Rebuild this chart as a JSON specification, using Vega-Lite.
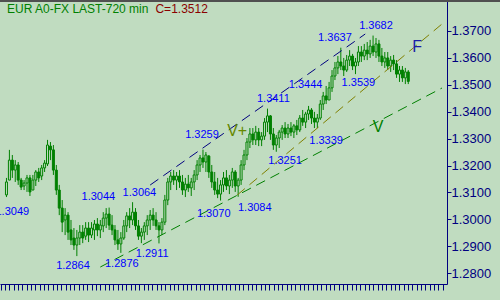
{
  "$schema": "https://vega.github.io/schema/vega-lite/v6.json",
  "width": 447,
  "height": 284,
  "autosize": {"type": "none"},
  "padding": {"left": 0, "top": 0, "right": 53, "bottom": 16},
  "background": "#C0DCC0",
  "config": {"view": {"stroke": null}, "font": "Liberation Sans"},
  "datasets": {
    "bars": [
      {"i":0,"o":1.3091,"h":1.3154,"l":1.3083,"c":1.3139},
      {"i":1,"o":1.3146,"h":1.3258,"l":1.3146,"c":1.3220},
      {"i":2,"o":1.3220,"h":1.3239,"l":1.3154,"c":1.3183},
      {"i":3,"o":1.3183,"h":1.3220,"l":1.3139,"c":1.3202},
      {"i":4,"o":1.3202,"h":1.3213,"l":1.3128,"c":1.3146},
      {"i":5,"o":1.3146,"h":1.3154,"l":1.3109,"c":1.3120},
      {"i":6,"o":1.3124,"h":1.3146,"l":1.3109,"c":1.3135},
      {"i":7,"o":1.3135,"h":1.3165,"l":1.3102,"c":1.3154},
      {"i":8,"o":1.3154,"h":1.3165,"l":1.3087,"c":1.3102},
      {"i":9,"o":1.3109,"h":1.3165,"l":1.3109,"c":1.3146},
      {"i":10,"o":1.3146,"h":1.3183,"l":1.3124,"c":1.3176},
      {"i":11,"o":1.3176,"h":1.3191,"l":1.3139,"c":1.3154},
      {"i":12,"o":1.3161,"h":1.3202,"l":1.3146,"c":1.3191},
      {"i":13,"o":1.3191,"h":1.3220,"l":1.3176,"c":1.3209},
      {"i":14,"o":1.3206,"h":1.3295,"l":1.3198,"c":1.3276},
      {"i":15,"o":1.3272,"h":1.3287,"l":1.3220,"c":1.3258},
      {"i":16,"o":1.3258,"h":1.3276,"l":1.3165,"c":1.3183},
      {"i":17,"o":1.3183,"h":1.3202,"l":1.3091,"c":1.3109},
      {"i":18,"o":1.3109,"h":1.3128,"l":1.3016,"c":1.3042},
      {"i":19,"o":1.3042,"h":1.3072,"l":1.2953,"c":1.2990},
      {"i":20,"o":1.2998,"h":1.3042,"l":1.2942,"c":1.3016},
      {"i":21,"o":1.3016,"h":1.3027,"l":1.2924,"c":1.2953},
      {"i":22,"o":1.2961,"h":1.2998,"l":1.2905,"c":1.2924},
      {"i":23,"o":1.2931,"h":1.2968,"l":1.2887,"c":1.2905},
      {"i":24,"o":1.2905,"h":1.2961,"l":1.2864,"c":1.2931},
      {"i":25,"o":1.2931,"h":1.2979,"l":1.2905,"c":1.2953},
      {"i":26,"o":1.2953,"h":1.2979,"l":1.2912,"c":1.2931},
      {"i":27,"o":1.2938,"h":1.2990,"l":1.2924,"c":1.2968},
      {"i":28,"o":1.2968,"h":1.2990,"l":1.2916,"c":1.2942},
      {"i":29,"o":1.2942,"h":1.2990,"l":1.2931,"c":1.2968},
      {"i":30,"o":1.2961,"h":1.2998,"l":1.2924,"c":1.2983},
      {"i":31,"o":1.2983,"h":1.3005,"l":1.2938,"c":1.2961},
      {"i":32,"o":1.2961,"h":1.2998,"l":1.2931,"c":1.2979},
      {"i":33,"o":1.2976,"h":1.3027,"l":1.2953,"c":1.3005},
      {"i":34,"o":1.3005,"h":1.3042,"l":1.2968,"c":1.3020},
      {"i":35,"o":1.3020,"h":1.3044,"l":1.2961,"c":1.2979},
      {"i":36,"o":1.2979,"h":1.3016,"l":1.2942,"c":1.2961},
      {"i":37,"o":1.2961,"h":1.2979,"l":1.2905,"c":1.2924},
      {"i":38,"o":1.2924,"h":1.2961,"l":1.2887,"c":1.2909},
      {"i":39,"o":1.2909,"h":1.2953,"l":1.2876,"c":1.2931},
      {"i":40,"o":1.2931,"h":1.2998,"l":1.2924,"c":1.2976},
      {"i":41,"o":1.2976,"h":1.3027,"l":1.2953,"c":1.3013},
      {"i":42,"o":1.3013,"h":1.3042,"l":1.2968,"c":1.2998},
      {"i":43,"o":1.2998,"h":1.3064,"l":1.2979,"c":1.3027},
      {"i":44,"o":1.3027,"h":1.3042,"l":1.2961,"c":1.2976},
      {"i":45,"o":1.2976,"h":1.2998,"l":1.2924,"c":1.2938},
      {"i":46,"o":1.2938,"h":1.2968,"l":1.2912,"c":1.2953},
      {"i":47,"o":1.2953,"h":1.2990,"l":1.2924,"c":1.2976},
      {"i":48,"o":1.2976,"h":1.3016,"l":1.2942,"c":1.2998},
      {"i":49,"o":1.2998,"h":1.3035,"l":1.2961,"c":1.3016},
      {"i":50,"o":1.3016,"h":1.3042,"l":1.2976,"c":1.2998},
      {"i":51,"o":1.2998,"h":1.3027,"l":1.2961,"c":1.2976},
      {"i":52,"o":1.2976,"h":1.2990,"l":1.2911,"c":1.2961},
      {"i":53,"o":1.2961,"h":1.3005,"l":1.2942,"c":1.2990},
      {"i":54,"o":1.2990,"h":1.3091,"l":1.2979,"c":1.3072},
      {"i":55,"o":1.3072,"h":1.3154,"l":1.3053,"c":1.3139},
      {"i":56,"o":1.3139,"h":1.3176,"l":1.3109,"c":1.3161},
      {"i":57,"o":1.3161,"h":1.3183,"l":1.3128,"c":1.3146},
      {"i":58,"o":1.3146,"h":1.3176,"l":1.3109,"c":1.3161},
      {"i":59,"o":1.3161,"h":1.3183,"l":1.3117,"c":1.3139},
      {"i":60,"o":1.3139,"h":1.3165,"l":1.3091,"c":1.3109},
      {"i":61,"o":1.3109,"h":1.3154,"l":1.3083,"c":1.3131},
      {"i":62,"o":1.3131,"h":1.3165,"l":1.3102,"c":1.3117},
      {"i":63,"o":1.3117,"h":1.3154,"l":1.3087,"c":1.3139},
      {"i":64,"o":1.3139,"h":1.3183,"l":1.3109,"c":1.3165},
      {"i":65,"o":1.3165,"h":1.3220,"l":1.3146,"c":1.3202},
      {"i":66,"o":1.3202,"h":1.3239,"l":1.3176,"c":1.3228},
      {"i":67,"o":1.3228,"h":1.3259,"l":1.3191,"c":1.3213},
      {"i":68,"o":1.3213,"h":1.3250,"l":1.3176,"c":1.3239},
      {"i":69,"o":1.3235,"h":1.3239,"l":1.3154,"c":1.3176},
      {"i":70,"o":1.3176,"h":1.3202,"l":1.3117,"c":1.3139},
      {"i":71,"o":1.3139,"h":1.3176,"l":1.3091,"c":1.3109},
      {"i":72,"o":1.3109,"h":1.3154,"l":1.3079,"c":1.3094},
      {"i":73,"o":1.3094,"h":1.3146,"l":1.3070,"c":1.3128},
      {"i":74,"o":1.3128,"h":1.3176,"l":1.3102,"c":1.3154},
      {"i":75,"o":1.3154,"h":1.3183,"l":1.3109,"c":1.3124},
      {"i":76,"o":1.3124,"h":1.3165,"l":1.3094,"c":1.3146},
      {"i":77,"o":1.3146,"h":1.3191,"l":1.3117,"c":1.3176},
      {"i":78,"o":1.3176,"h":1.3183,"l":1.3102,"c":1.3124},
      {"i":79,"o":1.3124,"h":1.3154,"l":1.3084,"c":1.3146},
      {"i":80,"o":1.3146,"h":1.3220,"l":1.3128,"c":1.3202},
      {"i":81,"o":1.3202,"h":1.3258,"l":1.3183,"c":1.3239},
      {"i":82,"o":1.3239,"h":1.3302,"l":1.3220,"c":1.3287},
      {"i":83,"o":1.3287,"h":1.3339,"l":1.3265,"c":1.3317},
      {"i":84,"o":1.3317,"h":1.3339,"l":1.3276,"c":1.3295},
      {"i":85,"o":1.3295,"h":1.3347,"l":1.3276,"c":1.3324},
      {"i":86,"o":1.3324,"h":1.3339,"l":1.3272,"c":1.3295},
      {"i":87,"o":1.3295,"h":1.3324,"l":1.3272,"c":1.3309},
      {"i":88,"o":1.3309,"h":1.3376,"l":1.3295,"c":1.3361},
      {"i":89,"o":1.3361,"h":1.3411,"l":1.3324,"c":1.3384},
      {"i":90,"o":1.3384,"h":1.3387,"l":1.3295,"c":1.3317},
      {"i":91,"o":1.3317,"h":1.3339,"l":1.3258,"c":1.3276},
      {"i":92,"o":1.3276,"h":1.3313,"l":1.3251,"c":1.3302},
      {"i":93,"o":1.3302,"h":1.3332,"l":1.3265,"c":1.3324},
      {"i":94,"o":1.3324,"h":1.3350,"l":1.3295,"c":1.3339},
      {"i":95,"o":1.3339,"h":1.3361,"l":1.3302,"c":1.3317},
      {"i":96,"o":1.3317,"h":1.3354,"l":1.3302,"c":1.3339},
      {"i":97,"o":1.3339,"h":1.3361,"l":1.3309,"c":1.3324},
      {"i":98,"o":1.3324,"h":1.3354,"l":1.3302,"c":1.3347},
      {"i":99,"o":1.3347,"h":1.3369,"l":1.3313,"c":1.3332},
      {"i":100,"o":1.3332,"h":1.3387,"l":1.3324,"c":1.3376},
      {"i":101,"o":1.3376,"h":1.3406,"l":1.3347,"c":1.3361},
      {"i":102,"o":1.3361,"h":1.3399,"l":1.3339,"c":1.3391},
      {"i":103,"o":1.3391,"h":1.3421,"l":1.3369,"c":1.3406},
      {"i":104,"o":1.3406,"h":1.3413,"l":1.3354,"c":1.3376},
      {"i":105,"o":1.3376,"h":1.3399,"l":1.3339,"c":1.3361},
      {"i":106,"o":1.3361,"h":1.3391,"l":1.3339,"c":1.3376},
      {"i":107,"o":1.3376,"h":1.3443,"l":1.3369,"c":1.3428},
      {"i":108,"o":1.3428,"h":1.3473,"l":1.3406,"c":1.3458},
      {"i":109,"o":1.3458,"h":1.3495,"l":1.3428,"c":1.3443},
      {"i":110,"o":1.3443,"h":1.3510,"l":1.3443,"c":1.3488},
      {"i":111,"o":1.3488,"h":1.3554,"l":1.3473,"c":1.3532},
      {"i":112,"o":1.3532,"h":1.3584,"l":1.3517,"c":1.3562},
      {"i":113,"o":1.3562,"h":1.3606,"l":1.3539,"c":1.3584},
      {"i":114,"o":1.3584,"h":1.3637,"l":1.3554,"c":1.3569},
      {"i":115,"o":1.3569,"h":1.3599,"l":1.3532,"c":1.3554},
      {"i":116,"o":1.3554,"h":1.3610,"l":1.3547,"c":1.3591},
      {"i":117,"o":1.3591,"h":1.3628,"l":1.3569,"c":1.3606},
      {"i":118,"o":1.3606,"h":1.3614,"l":1.3554,"c":1.3569},
      {"i":119,"o":1.3569,"h":1.3599,"l":1.3539,"c":1.3584},
      {"i":120,"o":1.3584,"h":1.3643,"l":1.3569,"c":1.3621},
      {"i":121,"o":1.3621,"h":1.3643,"l":1.3584,"c":1.3606},
      {"i":122,"o":1.3606,"h":1.3651,"l":1.3591,"c":1.3628},
      {"i":123,"o":1.3628,"h":1.3658,"l":1.3591,"c":1.3614},
      {"i":124,"o":1.3614,"h":1.3666,"l":1.3599,"c":1.3643},
      {"i":125,"o":1.3643,"h":1.3682,"l":1.3606,"c":1.3621},
      {"i":126,"o":1.3621,"h":1.3673,"l":1.3599,"c":1.3651},
      {"i":127,"o":1.3651,"h":1.3666,"l":1.3584,"c":1.3606},
      {"i":128,"o":1.3606,"h":1.3636,"l":1.3569,"c":1.3584},
      {"i":129,"o":1.3584,"h":1.3621,"l":1.3562,"c":1.3599},
      {"i":130,"o":1.3599,"h":1.3621,"l":1.3554,"c":1.3569},
      {"i":131,"o":1.3569,"h":1.3606,"l":1.3547,"c":1.3591},
      {"i":132,"o":1.3591,"h":1.3610,"l":1.3554,"c":1.3577},
      {"i":133,"o":1.3577,"h":1.3591,"l":1.3525,"c":1.3539},
      {"i":134,"o":1.3539,"h":1.3569,"l":1.3510,"c":1.3554},
      {"i":135,"o":1.3554,"h":1.3569,"l":1.3510,"c":1.3525},
      {"i":136,"o":1.3525,"h":1.3562,"l":1.3502,"c":1.3547},
      {"i":137,"o":1.3547,"h":1.3554,"l":1.3502,"c":1.3512}
    ],
    "lines": [
      {"line":"upper","i1":49,"p1":1.31277,"i2":122.33,"p2":1.36878},
      {"line":"middle","i1":78.67,"p1":1.30906,"i2":148.5,"p2":1.37249},
      {"line":"lower","i1":32,"p1":1.28235,"i2":148.5,"p2":1.34875}
    ],
    "labels": [
      {"label":"1.3049","i":2,"p":1.30276},
      {"label":"1.3044","i":31.33,"p":1.30832},
      {"label":"1.3064","i":45.33,"p":1.3098},
      {"label":"1.2864","i":22.67,"p":1.28273},
      {"label":"1.2876","i":39.33,"p":1.28347},
      {"label":"1.2911","i":49.67,"p":1.28718},
      {"label":"1.3259","i":66.67,"p":1.33132},
      {"label":"1.3070","i":70.67,"p":1.30201},
      {"label":"1.3084","i":84.67,"p":1.30424},
      {"label":"1.3251","i":95,"p":1.32167},
      {"label":"1.3339","i":109,"p":1.32909},
      {"label":"1.3411","i":91,"p":1.34467},
      {"label":"1.3444","i":102,"p":1.34986},
      {"label":"1.3637","i":112,"p":1.3673},
      {"label":"1.3682","i":126,"p":1.37175},
      {"label":"1.3539","i":120,"p":1.3506}
    ]
  },
  "encoding": {
    "y": {"type": "quantitative", "scale": {"domain": [1.27605, 1.38139], "nice": false, "zero": false},
      "axis": {"orient": "right", "title": null, "grid": false, "format": ".4f", "tickCount": 100,
        "labelOverlap": false,
        "values": [1.28,1.29,1.30,1.31,1.32,1.33,1.34,1.35,1.36,1.37],
        "domainColor": "#000080", "tickColor": "#000080", "tickSize": 4,
        "labelColor": "#000080", "labelFont": "Liberation Sans", "labelFontSize": 13,
        "labelPadding": 0}}
  },
  "resolve": {"scale": {"x": "independent"}},
  "layer": [
    {
      "data": {"values": [{"p": 1.38139, "a": -1, "b": 116}]},
      "mark": {"type": "rule", "color": "#505050", "strokeWidth": 4, "clip": false},
      "encoding": {
        "x": {"field": "a", "type": "quantitative",
          "scale": {"domain": [-0.162, 102.99], "nice": false, "zero": false},
          "axis": {"orient": "bottom", "title": null, "labels": false, "grid": false,
            "domainColor": "#000080", "tickColor": "#000080", "tickSize": 6, "tickCount": 110}},
        "x2": {"field": "b"},
        "y": {"field": "p", "type": "quantitative"}
      }
    },
    {
      "encoding": {
        "x": {"type": "quantitative", "scale": {"domain": [-0.5, 148.5], "nice": false, "zero": false}, "axis": null}
      },
      "layer": [
        {
          "data": {"name": "bars"},
          "mark": {"type": "rule", "color": "#008000", "strokeWidth": 1},
          "encoding": {
            "x": {"field": "i", "type": "quantitative"},
            "y": {"field": "l", "type": "quantitative"},
            "y2": {"field": "h"}
          }
        },
        {
          "data": {"name": "bars"},
          "mark": {"type": "bar", "width": 2, "stroke": "#008000", "strokeWidth": 1},
          "encoding": {
            "x": {"field": "i", "type": "quantitative"},
            "y": {"field": "o", "type": "quantitative"},
            "y2": {"field": "c"},
            "fill": {"condition": {"test": "datum.c >= datum.o", "value": "#C0DCC0"}, "value": "#008000"}
          }
        },
        {
          "data": {"name": "lines"},
          "mark": {"type": "rule", "strokeWidth": 1, "strokeDash": [10, 6]},
          "encoding": {
            "x": {"field": "i1", "type": "quantitative"},
            "x2": {"field": "i2"},
            "y": {"field": "p1", "type": "quantitative"},
            "y2": {"field": "p2"},
            "color": {"field": "line", "type": "nominal", "legend": null,
              "scale": {"domain": ["upper", "middle", "lower"], "range": ["#000080", "#808000", "#008000"]}}
          }
        },
        {
          "data": {"name": "labels"},
          "mark": {"type": "text", "color": "#0000FF", "fontSize": 11, "font": "Liberation Sans", "align": "center", "baseline": "middle"},
          "encoding": {
            "x": {"field": "i", "type": "quantitative"},
            "y": {"field": "p", "type": "quantitative"},
            "text": {"field": "label"}
          }
        },
        {
          "data": {"values": [{"label": "V+", "i": 78.67, "p": 1.3328}]},
          "mark": {"type": "text", "color": "#668800", "fontSize": 16, "font": "Liberation Sans", "align": "center", "baseline": "middle"},
          "encoding": {
            "x": {"field": "i", "type": "quantitative"},
            "y": {"field": "p", "type": "quantitative"},
            "text": {"field": "label"}
          }
        },
        {
          "data": {"values": [{"label": "V", "i": 126.67, "p": 1.33428}]},
          "mark": {"type": "text", "color": "#008000", "fontSize": 16, "font": "Liberation Sans", "align": "center", "baseline": "middle"},
          "encoding": {
            "x": {"field": "i", "type": "quantitative"},
            "y": {"field": "p", "type": "quantitative"},
            "text": {"field": "label"}
          }
        },
        {
          "data": {"values": [{"label": "F", "i": 140, "p": 1.36396}]},
          "mark": {"type": "text", "color": "#1C1CA8", "fontSize": 16, "font": "Liberation Sans", "align": "center", "baseline": "middle"},
          "encoding": {
            "x": {"field": "i", "type": "quantitative"},
            "y": {"field": "p", "type": "quantitative"},
            "text": {"field": "label"}
          }
        },
        {
          "data": {"values": [{"label": "EUR A0-FX LAST-720 min", "i": 0.2, "p": 1.37646}]},
          "mark": {"type": "text", "color": "#008000", "fontSize": 12, "font": "Liberation Sans", "align": "left", "baseline": "alphabetic"},
          "encoding": {
            "x": {"field": "i", "type": "quantitative"},
            "y": {"field": "p", "type": "quantitative"},
            "text": {"field": "label"}
          }
        },
        {
          "data": {"values": [{"label": "C=1.3512", "i": 50.8, "p": 1.37646}]},
          "mark": {"type": "text", "color": "#8B0000", "fontSize": 12, "font": "Liberation Sans", "align": "left", "baseline": "alphabetic"},
          "encoding": {
            "x": {"field": "i", "type": "quantitative"},
            "y": {"field": "p", "type": "quantitative"},
            "text": {"field": "label"}
          }
        }
      ]
    }
  ]
}
